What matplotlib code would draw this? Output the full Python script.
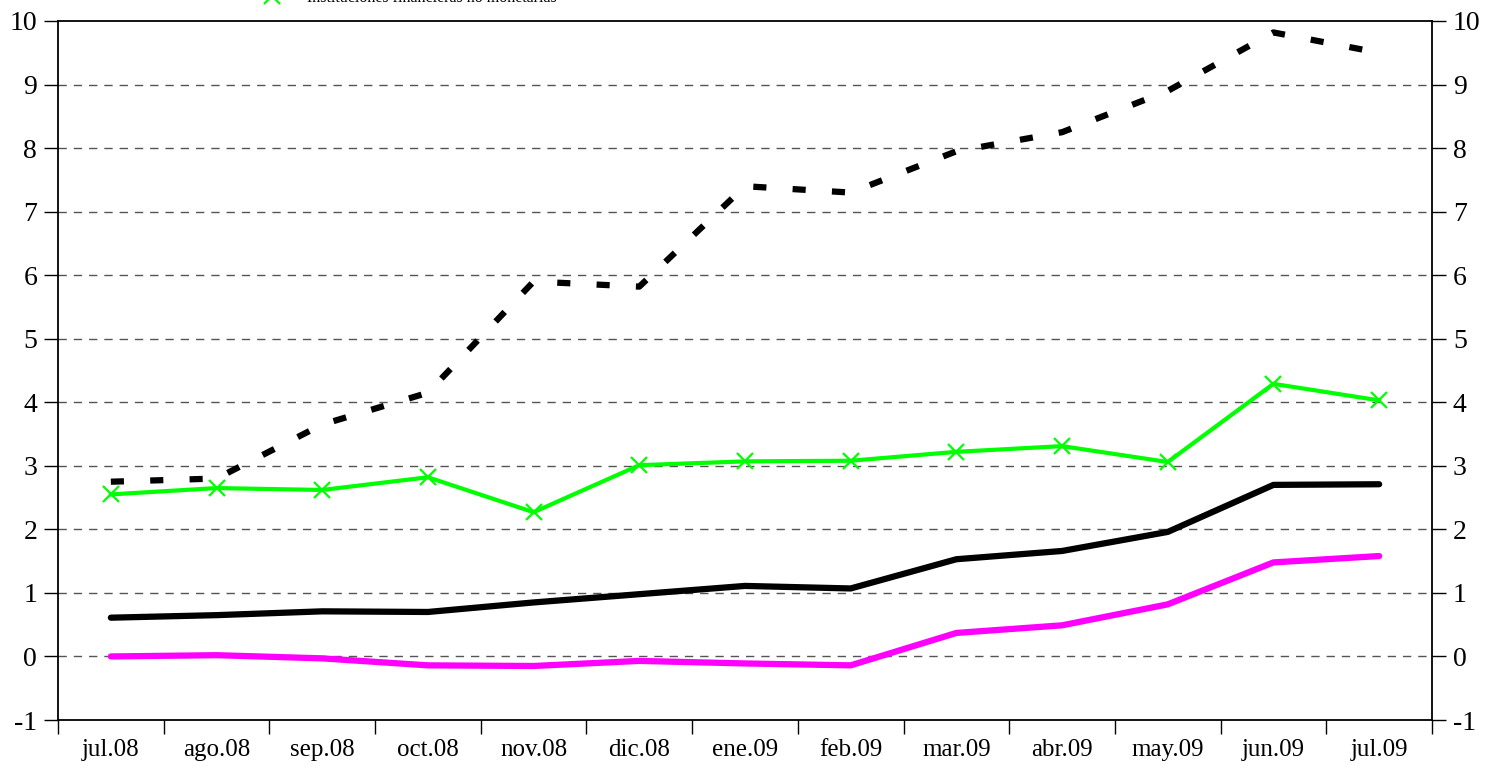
import numpy as np
import matplotlib.pyplot as plt

months = ["jul.08", "ago.08", "sep.08", "oct.08", "nov.08", "dic.08", "ene.09",
          "feb.09", "mar.09", "abr.09", "may.09", "jun.09", "jul.09"]

total = [2.75, 2.8, 3.65, 4.15, 5.9, 5.82, 7.4, 7.3, 7.95, 8.25, 8.9, 9.82, 9.5]
ifnm = [2.55, 2.65, 2.62, 2.82, 2.27, 3.01, 3.07, 3.08, 3.22, 3.31, 3.06, 4.29, 4.03]
black_solid = [0.61, 0.65, 0.71, 0.70, 0.85, 0.98, 1.11, 1.07, 1.53, 1.66, 1.96, 2.70, 2.71]
magenta = [0.0, 0.02, -0.03, -0.14, -0.15, -0.07, -0.11, -0.14, 0.37, 0.49, 0.82, 1.48, 1.58]

plt.rcParams['font.family'] = 'Liberation Serif'
plt.rcParams['axes.unicode_minus'] = False

fig = plt.figure(figsize=(14.99, 7.74), dpi=100)
ax = fig.add_axes([58 / 1499, 1 - 720 / 774, (1432 - 58) / 1499, (720 - 21) / 774])

x = np.arange(len(months))

ax.plot(x, total, color='black', lw=4.5, dashes=(2.1, 4.2), dash_capstyle='butt', zorder=3)
g, = ax.plot(x, ifnm, color='#00ff00', lw=3, marker='x', markersize=11,
             markeredgewidth=1.6, label='Instituciones financieras no monetarias', zorder=4)
ax.plot(x, black_solid, color='black', lw=4.5, solid_capstyle='round', zorder=3)
ax.plot(x, magenta, color='#ff00ff', lw=4.5, solid_capstyle='round', zorder=3)

ax.set_xlim(-0.5, len(months) - 0.5)
ax.set_ylim(-1, 10)
ax.set_yticks(range(-1, 11))
ax.set_xticks(x)
ax.set_xticklabels(months)
ax.set_xticks(np.arange(-0.5, len(months), 1), minor=True)
ax.tick_params(axis='x', which='major', length=0, pad=14, labelsize=18)
ax.tick_params(axis='x', which='minor', length=10, width=1, direction='out')
ax.tick_params(axis='y', length=10, width=1, direction='out', labelsize=20, pad=5,
               left=True, right=True, labelleft=True, labelright=True)

for v in range(0, 10):
    ax.axhline(v, color='#555555', lw=1, dashes=(6, 5), zorder=1)

for s in ax.spines.values():
    s.set_linewidth(1.3)

fig.legend(handles=[g], loc='center left', bbox_to_anchor=(0.163, 1.0 + 2 / 774),
           frameon=False, fontsize=11.5, borderpad=0, handlelength=2.5, handletextpad=0.9)

fig.savefig('out.png', dpi=100)
